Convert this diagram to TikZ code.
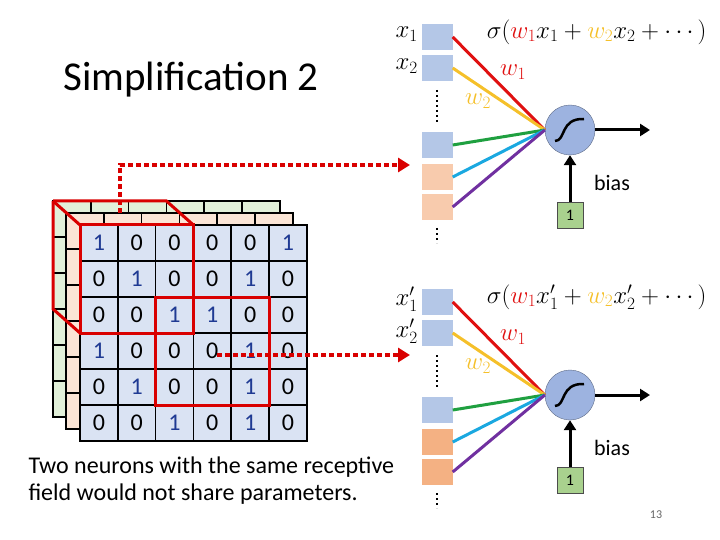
\documentclass[tikz,border=0pt]{standalone}
\usepackage{fontspec}
\setmainfont{Carlito}
\usetikzlibrary{arrows.meta}
\definecolor{gblue}{HTML}{DAE3F3}
\definecolor{gorange}{HTML}{FBE5D6}
\definecolor{ggreen}{HTML}{E2F0D9}
\definecolor{sqblue}{HTML}{B4C7E7}
\definecolor{sqor}{HTML}{F8CBAD}
\definecolor{sqor2}{HTML}{F4B183}
\definecolor{oneblue}{HTML}{1F3A93}
\definecolor{wred}{HTML}{E01010}
\definecolor{wyel}{HTML}{F5C02A}
\definecolor{lgreen}{HTML}{1FA040}
\definecolor{lcyan}{HTML}{1AA8E0}
\definecolor{lpurp}{HTML}{7030A0}
\definecolor{neu}{HTML}{9DB3E0}
\definecolor{boxg}{HTML}{A9D18E}
\tikzset{
  sq/.style={draw=none,minimum width=31pt,minimum height=26pt,inner sep=0pt},
  neuron/.style={circle,draw=neu!60!black,fill=neu,minimum size=50pt,inner sep=0pt},
  one/.style={draw=black!70,fill=boxg,minimum size=26pt,inner sep=0pt,font=\fontsize{16}{16}\selectfont},
  wire/.style={line width=3pt},
  rdash/.style={red!85!black,line width=4pt,dash pattern=on 5pt off 3pt,-{Triangle[length=12pt,width=14pt]}},
  dots/.style={line width=2pt,dash pattern=on 2pt off 3pt},
  redbox/.style={red!85!black,line width=3pt},
  mth/.style={font=\fontsize{25}{25}\selectfont},
}
\begin{document}
\begin{tikzpicture}[x=1pt,y=-1pt]
\useasboundingbox (0,0) rectangle (720,540);
% title
\node[font=\fontsize{41}{44}\selectfont] (title) at (191,80) {Simplification 2};
% back grids
\foreach \ox/\oy/\c in {-27/-24/ggreen,-14/-12/gorange}{
  \draw[fill=\c,line width=1.5pt] (80+\ox,225+\oy) rectangle ++(226.8,216);
  \foreach \i in {1,...,5}{
    \draw[line width=1.5pt] (80+\ox+37.8*\i,225+\oy) -- ++(0,216);
    \draw[line width=1.5pt] (80+\ox,225+\oy+36*\i) -- ++(226.8,0);}
}
% front grid
\draw[fill=gblue,line width=1.5pt] (80,225) rectangle ++(226.8,216);
\foreach \i in {1,...,5}{
  \draw[line width=1.5pt] (80+37.8*\i,225) -- ++(0,216);
  \draw[line width=1.5pt] (80,225+36*\i) -- ++(226.8,0);}
\foreach \row [count=\r from 0] in {{1,0,0,0,0,1},{0,1,0,0,1,0},{0,0,1,1,0,0},{1,0,0,0,1,0},{0,1,0,0,1,0},{0,0,1,0,1,0}}{
  \foreach \v [count=\c from 0] in \row{
    \ifnum\v=1 \def\tc{oneblue}\else\def\tc{black}\fi
    \node[font=\fontsize{24}{24}\selectfont,text=\tc] at (80+37.8*\c+18.9,225+36*\r+18) {\v};
  }}
% receptive fields
\draw[redbox] (80,225) rectangle (193.4,333);
\draw[redbox] (53,201) -- (166.4,201) -- (193.4,225);
\draw[redbox] (53,201) -- (80,225);
\draw[redbox] (53,201) -- (53,309) -- (80,333);
\draw[redbox] (155.6,297) rectangle (269,405);
% dashed arrows
\coordinate (d1s) at (120,213);
\coordinate (d1m) at (120,165);
\coordinate (d1e) at (410,165);
\draw[rdash] (d1s) -- (d1m) -- (d1e);
\coordinate (d2s) at (217,355);
\coordinate (d2e) at (410,355);
\draw[rdash] (d2s) -- (d2e);
% caption
\node[font=\fontsize{24}{27}\selectfont,align=left,anchor=north west] (cap) at (25,453) {Two neurons with the same receptive\\field would not share parameters.};
\node[font=\fontsize{12}{12}\selectfont,text=black!60] (pg) at (656,515) {13};
% neurons
\foreach \dy/\p/\o in {0//sqor,265/'/sqor2}{
  \begin{scope}[yshift=-\dy pt]
  \node[sq,fill=sqblue] (a1) at (437,37) {};
  \node[sq,fill=sqblue] (a2) at (437,68) {};
  \node[sq,fill=sqblue] (a3) at (437,145) {};
  \node[sq,fill=\o] (a4) at (437,177) {};
  \node[sq,fill=\o] (a5) at (437,207) {};
  \draw[dots] (437,90) -- (437,124);
  \draw[dots] (437,228) -- (437,243);
  \node[mth,anchor=east,inner sep=1pt] (x1) at (419,34) {$x\p_1$};
  \node[mth,anchor=east,inner sep=1pt] (x2) at (419,66) {$x\p_2$};
  \node[neuron] (n) at (570,130) {};
  \draw[line width=2.5pt] (555,141) .. controls (566,141) and (560,118) .. (584,119);
  \node[one] (b) at (570,215) {1};
  \node[font=\fontsize{22}{22}\selectfont] (bl) at (612,183) {bias};
  \coordinate (out) at (650,130);
  \draw[line width=3pt,-{Triangle[length=10pt,width=12pt]}] (n) -- (out);
  \draw[line width=3pt,-{Triangle[length=10pt,width=12pt]}] (b) -- (n);
  \draw[wire,wred] (a1.east) -- (n.west);
  \draw[wire,wyel] (a2.east) -- (n.west);
  \draw[wire,lgreen] (a3.east) -- (n.west);
  \draw[wire,lcyan] (a4.east) -- (n.west);
  \draw[wire,lpurp] (a5.east) -- (n.west);
  \node[mth,text=wred] (w1) at (513,72) {$w_1$};
  \node[mth,text=wyel] (w2) at (478,101) {$w_2$};
  \node[mth,anchor=east] (f) at (710,32) {$\sigma(\textcolor{wred}{w_1}x\p_1+\textcolor{wyel}{w_2}x\p_2+\cdots\,)$};
  \end{scope}
}
\end{tikzpicture}
\end{document}
